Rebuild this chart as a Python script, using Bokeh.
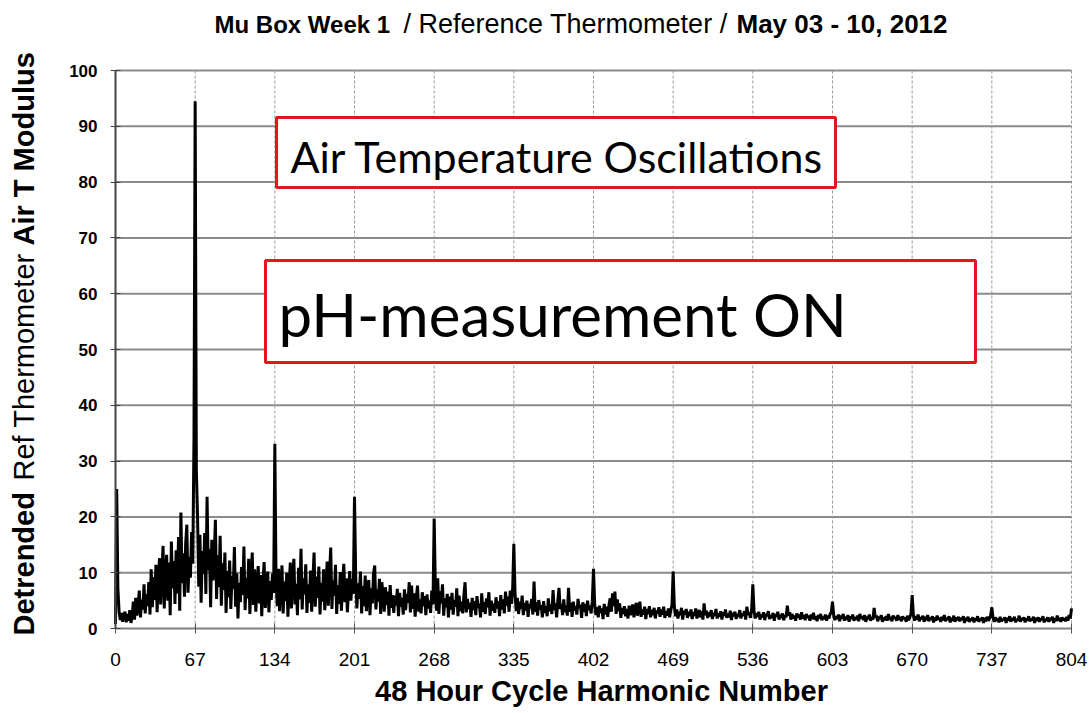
import numpy as np
from bokeh.plotting import figure
from bokeh.models import Label, BoxAnnotation, FixedTicker, Range1d, LinearAxis
from bokeh.embed import file_html
from bokeh.resources import INLINE

# ---------------- data ----------------
x_ticks = [0, 67, 134, 201, 268, 335, 402, 469, 536, 603, 670, 737, 804]
y_ticks = [0, 10, 20, 30, 40, 50, 60, 70, 80, 90, 100]

modulus = [
    # 0-19
    0.8, 25.0, 7.2, 3.1, 1.5, 2.8, 1.2, 2.4, 3.0, 1.1, 2.6, 1.4, 3.3, 1.0, 2.2, 4.8, 1.6, 5.5, 2.3, 4.1,
    # 20-39
    6.8, 2.0, 5.2, 3.4, 7.9, 2.7, 6.1, 4.0, 8.3, 2.5, 10.6, 3.8, 9.2, 5.1, 11.4, 2.9, 8.7, 12.6, 4.3, 10.1,
    # 40-59
    14.8, 3.6, 9.5, 13.2, 5.0, 11.8, 2.4, 15.6, 7.2, 12.1, 4.4, 14.0, 6.3, 16.4, 3.2, 20.8, 8.1, 13.5, 5.7, 15.2,
    # 60-79
    18.6, 6.4, 12.8, 9.1, 17.3, 11.6, 34.2, 94.5, 28.4, 20.2, 7.5, 16.8, 4.6, 13.9, 9.8, 17.1, 6.2, 23.6, 10.4, 14.3,
    # 80-99
    3.8, 15.9, 8.6, 12.4, 19.5, 5.3, 13.1, 7.4, 16.6, 4.1, 11.7, 6.9, 13.6, 2.8, 10.3, 5.6, 12.2, 3.5, 9.4, 7.1,
    # 100-119
    14.6, 3.9, 9.9, 1.8, 8.2, 4.7, 11.0, 6.0, 14.7, 3.3, 9.1, 5.4, 12.5, 2.6, 8.8, 13.6, 4.2, 10.6, 3.0, 7.7,
    # 120-139
    11.2, 4.5, 9.6, 2.2, 8.1, 11.9, 3.7, 7.3, 10.2, 2.9, 8.5, 5.1, 9.8, 6.4, 33.1, 8.9, 4.0, 10.7, 3.1, 7.6,
    # 140-159
    11.3, 2.7, 8.4, 4.9, 10.0, 2.1, 7.5, 11.8, 3.6, 9.2, 12.5, 4.3, 8.0, 2.4, 10.9, 5.2, 14.3, 3.4, 9.0, 6.1,
    # 160-179
    11.5, 2.8, 7.9, 4.6, 10.4, 3.0, 8.7, 13.6, 3.9, 9.3, 5.5, 11.1, 2.5, 8.2, 4.8, 10.6, 3.3, 7.4, 12.0, 4.1,
    # 180-199
    9.7, 14.5, 3.5, 8.6, 5.9, 11.4, 2.6, 7.8, 4.4, 10.1, 3.2, 8.3, 11.6, 4.7, 9.0, 2.9, 7.1, 10.3, 5.0, 8.8,
    # 200-219
    6.2, 23.6, 9.4, 3.6, 8.1, 5.3, 10.2, 2.7, 7.6, 4.0, 9.5, 3.1, 6.9, 8.7, 2.4, 7.2, 4.5, 9.8, 11.3, 3.4,
    # 220-239
    7.0, 4.8, 8.9, 2.6, 8.3, 6.1, 3.0, 7.4, 4.2, 6.6, 2.3, 7.8, 3.7, 6.0, 2.8, 5.9, 4.1, 7.1, 2.2, 6.4,
    # 240-259
    3.9, 5.5, 2.5, 7.0, 3.3, 6.2, 4.6, 8.3, 2.9, 7.7, 3.5, 6.3, 2.1, 5.6, 7.7, 3.0, 5.2, 2.7, 6.5, 4.0,
    # 260-279
    5.8, 2.4, 6.1, 3.6, 5.0, 2.8, 6.8, 4.3, 19.7, 7.4, 3.2, 9.0, 2.6, 6.7, 4.5, 7.9, 2.3, 5.4, 3.8, 6.2,
    # 280-299
    2.0, 5.7, 3.4, 6.4, 2.5, 5.1, 3.9, 7.2, 2.2, 5.9, 3.1, 4.8, 2.7, 6.0, 8.3, 2.9, 5.3, 3.5, 4.6, 2.1,
    # 300-319
    5.5, 3.3, 4.9, 2.4, 5.8, 3.7, 4.4, 2.0, 6.3, 3.0, 4.7, 2.6, 5.4, 3.8, 6.5, 2.3, 5.0, 3.2, 4.5, 2.8,
    # 320-339
    5.6, 3.6, 4.9, 2.2, 6.0, 3.4, 5.2, 2.7, 6.6, 4.1, 5.7, 3.0, 6.8, 4.4, 7.0, 15.2, 6.4, 3.1, 5.5, 2.6,
    # 340-359
    4.8, 3.5, 5.9, 2.4, 4.6, 3.2, 5.0, 2.1, 4.4, 3.6, 5.3, 2.5, 8.4, 3.0, 4.7, 2.3, 5.1, 3.4, 4.2, 2.0,
    # 360-379
    4.9, 2.8, 4.0, 2.2, 5.4, 3.1, 4.3, 2.6, 6.9, 3.3, 4.5, 2.0, 5.0, 7.3, 3.5, 4.4, 2.4, 5.2, 2.9, 4.1,
    # 380-399
    2.3, 7.3, 3.0, 4.6, 2.1, 4.8, 3.2, 4.0, 2.5, 5.3, 3.6, 4.2, 1.9, 4.7, 3.0, 4.4, 2.2, 5.0, 3.3, 4.1,
    # 400-419
    2.7, 4.9, 10.7, 4.3, 2.4, 3.8, 2.0, 4.1, 2.8, 3.6, 1.7, 4.4, 2.5, 3.9, 2.1, 4.2, 5.4, 3.0, 6.3, 4.0,
    # 420-439
    6.6, 2.6, 5.2, 3.1, 4.5, 1.9, 3.7, 2.6, 4.0, 2.2, 3.5, 1.8, 4.1, 2.4, 3.3, 4.3, 2.0, 3.6, 4.6, 2.3,
    # 440-459
    3.8, 4.8, 2.1, 3.4, 2.5, 3.9, 1.7, 3.5, 2.6, 4.0, 2.0, 3.3, 2.4, 3.7, 1.8, 3.2, 2.7, 3.8, 2.1, 3.4,
    # 460-479
    2.5, 3.9, 1.9, 3.1, 2.3, 3.6, 2.0, 3.3, 4.2, 10.2, 3.9, 2.2, 3.4, 1.8, 3.0, 2.4, 3.7, 1.6, 3.2, 2.5,
    # 480-499
    3.5, 1.9, 3.0, 2.2, 3.4, 1.7, 2.9, 2.3, 3.6, 1.8, 2.8, 3.3, 2.0, 3.1, 1.6, 4.5, 2.4, 3.2, 1.9, 2.9,
    # 500-519
    2.2, 3.3, 1.7, 2.8, 2.3, 3.5, 1.8, 2.7, 2.1, 3.1, 1.6, 2.9, 2.3, 3.4, 1.9, 2.6, 2.0, 3.2, 1.5, 2.8,
    # 520-539
    2.2, 3.0, 1.7, 2.6, 2.1, 3.3, 1.8, 2.7, 2.3, 3.1, 1.6, 3.9, 2.4, 2.9, 1.9, 3.4, 7.9, 3.2, 1.8, 2.7,
    # 540-559
    2.1, 3.0, 1.6, 2.5, 2.0, 2.9, 1.5, 2.6, 2.2, 3.1, 1.7, 2.4, 1.9, 2.8, 1.4, 2.6, 2.1, 3.0, 1.6, 2.5,
    # 560-579
    1.9, 2.7, 1.5, 2.4, 2.0, 4.1, 2.3, 2.9, 1.6, 2.6, 1.8, 2.3, 1.4, 2.7, 2.0, 2.5, 1.6, 2.9, 1.8, 2.4,
    # 580-599
    1.5, 2.6, 1.9, 2.3, 1.4, 2.5, 1.7, 2.8, 1.6, 2.2, 1.3, 2.4, 1.8, 2.6, 1.5, 2.1, 1.7, 2.5, 1.4, 2.3,
    # 600-619
    1.8, 2.6, 2.9, 4.8, 2.4, 1.5, 2.2, 1.7, 2.5, 1.3, 2.3, 1.8, 2.6, 1.4, 2.1, 1.6, 2.4, 1.2, 2.2, 1.7,
    # 620-639
    2.5, 1.4, 2.0, 1.6, 2.3, 1.3, 2.6, 1.8, 2.2, 1.5, 2.4, 1.2, 2.1, 1.7, 2.5, 1.4, 2.0, 1.6, 3.7, 1.9,
    # 640-659
    2.3, 1.3, 2.1, 1.7, 2.4, 1.2, 2.0, 1.5, 2.2, 1.4, 2.6, 1.6, 2.1, 1.3, 2.3, 1.8, 2.0, 1.4, 2.4, 1.6,
    # 660-679
    2.1, 1.3, 2.2, 1.7, 1.9, 1.2, 2.3, 1.5, 2.0, 2.6, 6.0, 2.4, 1.4, 2.2, 1.6, 2.5, 1.3, 2.0, 1.7, 2.3,
    # 680-699
    1.2, 2.1, 1.5, 2.4, 1.3, 1.9, 1.6, 2.2, 1.1, 2.0, 1.4, 2.3, 1.6, 1.9, 1.2, 2.1, 1.5, 2.4, 1.3, 1.8,
    # 700-719
    1.6, 2.2, 1.1, 1.9, 1.4, 2.3, 1.2, 2.0, 1.5, 2.1, 1.3, 1.8, 1.6, 2.2, 1.0, 1.9, 1.4, 2.1, 1.2, 1.7,
    # 720-739
    1.5, 2.0, 1.1, 1.8, 1.4, 2.2, 1.2, 1.7, 1.5, 2.0, 1.0, 1.9, 1.3, 2.1, 1.4, 1.8, 2.3, 3.8, 1.9, 1.2,
    # 740-759
    2.0, 1.4, 1.8, 1.1, 2.1, 1.3, 1.7, 1.5, 2.0, 1.0, 1.9, 1.4, 2.2, 1.2, 1.8, 1.5, 2.1, 1.1, 1.7, 1.4,
    # 760-779
    2.3, 1.2, 1.9, 1.5, 2.0, 1.1, 1.8, 1.4, 2.2, 1.3, 1.7, 1.5, 2.1, 1.0, 1.9, 1.4, 2.0, 1.2, 1.8, 1.5,
    # 780-799
    2.2, 1.1, 1.7, 1.4, 2.0, 1.2, 1.9, 1.5, 2.1, 1.0, 1.8, 1.3, 2.3, 1.4, 1.9, 1.2, 2.0, 1.5, 1.8, 1.3,
    # 800-804
    2.1, 1.4, 2.4, 1.8, 3.6,
]
harmonic = list(range(len(modulus)))

title_parts = ["Mu Box Week 1", "/ Reference Thermometer /", "May 03 - 10, 2012"]
ylabel_parts = ["Detrended", "Ref Thermometer", "Air T Modulus"]
xlabel_text = "48 Hour Cycle Harmonic Number"
box_texts = ["Air Temperature Oscillations", "pH-measurement ON"]

# ---------------- layout (page pixels) ----------------
W, H = 1090, 712
DATA_L, DATA_R, DATA_T, DATA_B = 115, 1071, 70, 628
XMIN, XMAX = x_ticks[0], x_ticks[-1]
YMIN, YMAX = y_ticks[0], y_ticks[-1]
XPX = (DATA_R - DATA_L) / (XMAX - XMIN)
YPX = (DATA_B - DATA_T) / (YMAX - YMIN)
BASE_K = 0.36  # observed offset of alphabetic baseline below the anchor (em)


def dx(px):
    return XMIN + (px - DATA_L) / XPX


def dy(py):
    return YMIN + (DATA_B - py) / YPX


p = figure(width=W, height=H, output_backend="svg", toolbar_location=None,
           x_axis_type=None, y_axis_type=None,
           x_range=Range1d(dx(0), dx(W)), y_range=Range1d(dy(H), dy(0)),
           min_border=0, min_border_left=0, min_border_right=0,
           min_border_top=0, min_border_bottom=0)
p.outline_line_color = None
p.background_fill_color = "white"
p.border_fill_color = "white"

# grid lines derived from the tick lists
hy = y_ticks[1:]
p.segment(x0=[XMIN] * len(hy), x1=[XMAX] * len(hy), y0=hy, y1=hy,
          line_color="#8a8a8a", line_width=2, level="underlay")
vx = x_ticks[1:]
p.segment(x0=vx, x1=vx, y0=[YMIN] * len(vx), y1=[YMAX] * len(vx),
          line_color="#9a9a9a", line_width=1, line_dash="3 2", level="underlay")

p.line(harmonic, modulus, line_color="black", line_width=3)

xaxis = LinearAxis(ticker=FixedTicker(ticks=x_ticks), fixed_location=YMIN, bounds=(XMIN, XMAX))
yaxis = LinearAxis(ticker=FixedTicker(ticks=y_ticks), fixed_location=XMIN, bounds=(YMIN, YMAX))
p.add_layout(xaxis, "below")
p.add_layout(yaxis, "left")
for ax in (xaxis, yaxis):
    ax.major_tick_in = 5
    ax.major_tick_out = 5
    ax.minor_tick_line_color = None
    ax.major_label_text_color = "black"
    ax.major_label_text_font = "Liberation Sans"
yaxis.axis_line_color = "#444444"
yaxis.axis_line_width = 2
yaxis.major_tick_line_color = "#444444"
yaxis.major_label_text_font_size = "17px"
yaxis.major_label_text_font_style = "bold"
yaxis.major_label_standoff = 13
xaxis.axis_line_color = "#808080"
xaxis.axis_line_width = 2
xaxis.major_tick_line_color = "#555555"
xaxis.major_label_text_font_size = "19px"
xaxis.major_label_standoff = 19


def add_text(txt, px, py_base, size, style="normal", font="Liberation Sans", align="left", angle=0.0):
    if angle:
        ax_, ay_ = dx(px - BASE_K * size), dy(py_base)
    else:
        ax_, ay_ = dx(px), dy(py_base - BASE_K * size)
    p.add_layout(Label(x=ax_, y=ay_, text=txt, text_font=font, text_font_size=f"{size}px",
                       text_font_style=style, text_color="black", angle=angle,
                       text_baseline="alphabetic", text_align=align))


# title segments
title_x = [214, 403, 736]
title_sizes = [24, 27, 26]
title_styles = ["bold", "normal", "bold"]
for txt, xs, sz, st in zip(title_parts, title_x, title_sizes, title_styles):
    add_text(txt, xs, 33, sz, st)

# y label segments (rotated, reading upward)
ylab_y = [635, 480, 245]
ylab_styles = ["bold", "normal", "bold"]
for txt, ys, st in zip(ylabel_parts, ylab_y, ylab_styles):
    add_text(txt, 34, ys, 29, st, angle=np.pi / 2)

# x label
add_text(xlabel_text, 601, 701, 29, "bold", align="center")

# annotation boxes
box1 = dict(l=276, r=835, t=117, b=187)
box2 = dict(l=265, r=975, t=260, b=362)
for b in (box1, box2):
    p.add_layout(BoxAnnotation(left=dx(b["l"]), right=dx(b["r"]), top=dy(b["t"]), bottom=dy(b["b"]),
                               fill_color="white", fill_alpha=1.0, line_color="#e3161c",
                               line_width=3, line_alpha=1.0))

add_text(box_texts[0], 290, 171, 43, font="Lato")
add_text(box_texts[1], 278, 335, 60, font="Lato")

open("out.html", "w").write(file_html(p, INLINE))
